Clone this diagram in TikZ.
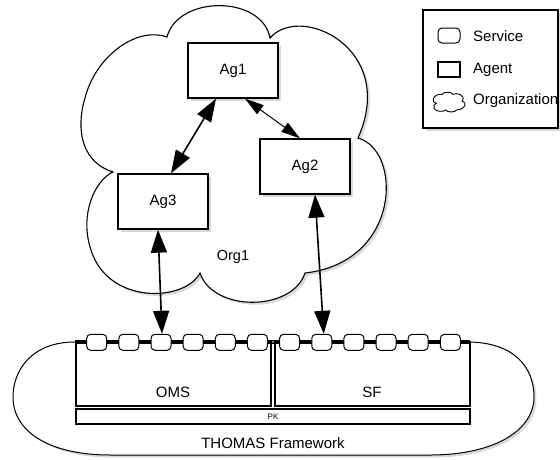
\documentclass[tikz,border=0pt]{standalone}
\usepackage{fontspec}
\setmainfont{Liberation Sans}
\usetikzlibrary{arrows.meta,shadows}
\def\cloudpath{(113,172) .. controls (76,160) and (78,120) .. (85,98) .. controls (95,58) and (135,26) .. (167,37) .. controls (178,-5) and (262,-5) .. (270,38) .. controls (300,3) and (398,48) .. (358,138) .. controls (402,150) and (402,262) .. (305,273) .. controls (292,312) and (213,312) .. (200,273) .. controls (185,302) and (108,305) .. (91,250) .. controls (79,215) and (95,180) .. (113,172) -- cycle}
\tikzset{
  shad/.style={drop shadow={opacity=0.3, shadow xshift=2.5pt, shadow yshift=-2.5pt}},
  agent/.style={draw, line width=1.3pt, fill=white, minimum width=90pt, minimum height=55pt, inner sep=0pt, font=\fontsize{15}{18}\selectfont, shad},
  service/.style={draw, line width=1pt, fill=white, rounded corners=4pt, minimum width=20pt, minimum height=16pt, inner sep=0pt},
  module/.style={draw, line width=1.2pt, fill=white, inner sep=0pt},
  lbl/.style={font=\fontsize{15}{18}\selectfont, inner sep=0pt},
  busline/.style={line width=0.9pt},
  bigarrow/.style={line width=1.6pt, {Triangle[length=23pt,width=16pt]}-{Triangle[length=23pt,width=16pt]}},
  smallarrow/.style={line width=1pt, {Triangle[length=19pt,width=11pt]}-{Triangle[length=19pt,width=11pt]}},
}
\begin{document}
\begin{tikzpicture}[x=1pt,y=-1pt]
\useasboundingbox (0,0) rectangle (560,459);
% organization cloud
\draw[line width=1.1pt, fill=white, shad] \cloudpath;
\node[lbl, font=\fontsize{14.5}{17}\selectfont] (org1) at (233,257) {Org1};
% agents
\node[agent] (ag1) at (233,70.5) {Ag1};
\node[agent] (ag2) at (305,166.5) {Ag2};
\node[agent] (ag3) at (163,201.5) {Ag3};
% framework
\draw[line width=1pt, fill=white, shad] (75,342) .. controls (30,342) and (13,372) .. (13,397) .. controls (13,432) and (50,455) .. (110,455) -- (430,455) .. controls (495,455) and (534,430) .. (534,397) .. controls (534,368) and (515,342) .. (467,342) -- cycle;
\node[module, minimum width=195pt, minimum height=64pt] (oms) at (173.5,374) {};
\node[module, minimum width=195pt, minimum height=64pt] (sf) at (372.5,374) {};
\node[lbl] (omst) at (173,392) {OMS};
\node[lbl] (sft) at (372,392) {SF};
\node[module, minimum width=394pt, minimum height=15pt] (pk) at (273,416.5) {};
\node[inner sep=0pt, font=\fontsize{8}{9}\selectfont] (pkt) at (273,416.5) {PK};
\node[lbl] (thomas) at (273,443) {THOMAS Framework};
% service bus
\coordinate (busl) at (75,340.8);
\coordinate (busr) at (470,340.8);
\coordinate (busl2) at (75,343.4);
\coordinate (busr2) at (470,343.4);
\draw[busline] (busl) -- (busr);
\draw[busline] (busl2) -- (busr2);
\foreach \i in {1,...,12}{
  \node[service] (s\i) at ({96.7+32.15*(\i-1)},342.3) {};
}
% connectors
\draw[bigarrow] ([xshift=-17pt]ag1.south) -- ([xshift=8pt]ag3.north);
\draw[smallarrow] ([xshift=12pt]ag1.south) -- ([xshift=-5pt]ag2.north);
\draw[bigarrow] ([xshift=-5pt]ag3.south) -- ([xshift=1pt]s3.north);
\draw[bigarrow] ([xshift=10pt]ag2.south) -- ([xshift=2pt]s8.north);
% legend
\node[draw, line width=1.2pt, fill=white, minimum width=135pt, minimum height=118pt, inner sep=0pt, shad] (legend) at (490.5,69) {};
\node[service, minimum width=22pt, minimum height=15pt] (lserv) at (449,35.5) {};
\node[draw, line width=1.3pt, minimum width=22pt, minimum height=15pt, inner sep=0pt] (lagent) at (449,69.5) {};
\begin{scope}[shift={(433,92)}, xscale=0.105, yscale=0.0664, shift={(-80,-2)}]
\draw[line width=0.9pt] \cloudpath;
\end{scope}
\node[lbl, anchor=west] (lservt) at (473,36) {Service};
\node[lbl, anchor=west] (lagentt) at (473,70) {Agent};
\node[lbl, anchor=west] (lorgt) at (473,101) {Organization};
\end{tikzpicture}
\end{document}
